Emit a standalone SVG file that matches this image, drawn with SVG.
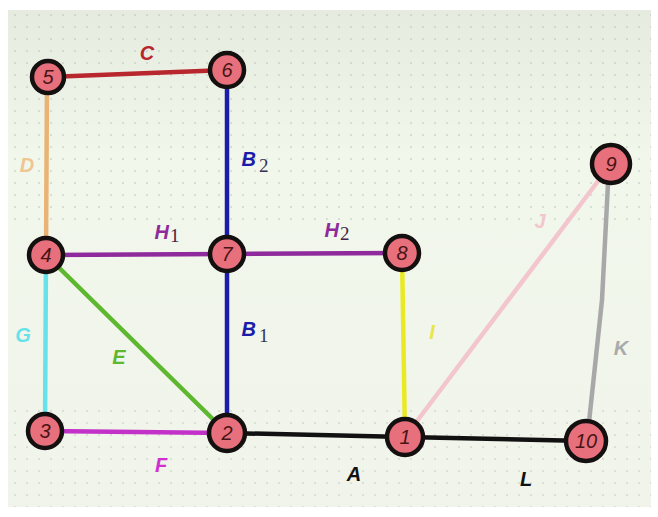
<svg xmlns="http://www.w3.org/2000/svg" width="658" height="517" viewBox="0 0 658 517">
<defs>
<pattern id="dots" width="12" height="12" patternUnits="userSpaceOnUse">
<circle cx="3" cy="3" r="1.1" fill="#9aa597" opacity="0.45"/>
</pattern>
<linearGradient id="bg" x1="0" y1="0" x2="0" y2="1">
<stop offset="0" stop-color="#e6ebe0"/>
<stop offset="0.3" stop-color="#f2f7ec"/>
<stop offset="1" stop-color="#f0f4ea"/>
</linearGradient>
</defs>
<style>
.e{fill:none;stroke-width:4.5;stroke-linecap:round}
.n circle{fill:#e8707c;stroke:#151010;stroke-width:4.5}
.n text{font-family:"Liberation Sans",Arial,sans-serif;font-style:italic;font-size:20px;fill:#4a1414;text-anchor:middle;dominant-baseline:central}
.l{font-family:"Liberation Sans",Arial,sans-serif;font-style:italic;font-weight:bold;font-size:20px}
.s{font-family:"Liberation Serif",serif;font-style:normal;font-weight:normal;font-size:19px}
</style>
<rect width="658" height="517" fill="#ffffff"/>
<rect x="8" y="10" width="643" height="497" fill="url(#bg)"/>
<rect x="8" y="10" width="643" height="210" fill="url(#dots)" opacity="0.8"/>
<rect x="8" y="400" width="643" height="107" fill="url(#dots)" opacity="0.7"/>
<g id="connectors">
<line class="e" x1="48" y1="77" x2="227" y2="70" stroke="#b8262e"/>
<line class="e" x1="47" y1="77" x2="46" y2="255" stroke="#e9b373"/>
<line class="e" x1="227" y1="70" x2="227" y2="254" stroke="#1c1caa"/>
<line class="e" x1="46" y1="255" x2="227" y2="254" stroke="#8e2a9c"/>
<line class="e" x1="227" y1="254" x2="402" y2="253" stroke="#8e2a9c"/>
<line class="e" x1="227" y1="254" x2="227" y2="433" stroke="#1c1caa"/>
<line class="e" x1="46" y1="255" x2="227" y2="433" stroke="#5db830"/>
<line class="e" x1="46" y1="255" x2="45" y2="431" stroke="#66e2ea"/>
<line class="e" x1="45" y1="431" x2="227" y2="433" stroke="#c232c8"/>
<line class="e" x1="227" y1="433" x2="405" y2="437" stroke="#111111"/>
<line class="e" x1="405" y1="437" x2="586" y2="441" stroke="#111111"/>
<line class="e" x1="402" y1="253" x2="405" y2="437" stroke="#eaea22"/>
<line class="e" x1="405" y1="437" x2="611" y2="164" stroke="#f2c6cc"/>
<polyline class="e" points="609,164 602,300 587,441" stroke="#a8a8a8"/>
</g>
<g id="edge-labels">
<text class="l" x="147" y="60" fill="#b8262e" text-anchor="middle">C</text>
<text class="l" x="27" y="172" fill="#efc592" text-anchor="middle">D</text>
<text class="l" x="255" y="166" fill="#1c1caa" text-anchor="middle">B<tspan class="s" fill="#333355" dx="3" dy="6">2</tspan></text>
<text class="l" x="167" y="239" fill="#8e2a9c" text-anchor="middle">H<tspan class="s" fill="#442244" dx="1" dy="3">1</tspan></text>
<text class="l" x="337" y="237" fill="#8e2a9c" text-anchor="middle">H<tspan class="s" fill="#442244" dx="1" dy="3">2</tspan></text>
<text class="l" x="540" y="228" fill="#f2c6cc" text-anchor="middle">J</text>
<text class="l" x="23" y="342" fill="#66e2ea" text-anchor="middle">G</text>
<text class="l" x="119" y="364" fill="#5db830" text-anchor="middle">E</text>
<text class="l" x="255" y="336" fill="#1c1caa" text-anchor="middle">B<tspan class="s" fill="#333355" dx="3" dy="6">1</tspan></text>
<text class="l" x="432" y="339" fill="#e8e64a" text-anchor="middle">I</text>
<text class="l" x="621" y="355" fill="#aaaaaa" text-anchor="middle">K</text>
<text class="l" x="161" y="472" fill="#d030d0" text-anchor="middle">F</text>
<text class="l" x="354" y="481" fill="#111111" text-anchor="middle">A</text>
<text class="l" x="526" y="486" fill="#111111" text-anchor="middle">L</text>
</g>
<g id="node-5" class="n"><circle cx="48" cy="77" r="16"/><text x="48" y="77">5</text></g>
<g id="node-6" class="n"><circle cx="227" cy="70" r="17"/><text x="227" y="70">6</text></g>
<g id="node-4" class="n"><circle cx="46" cy="255" r="17"/><text x="46" y="255">4</text></g>
<g id="node-7" class="n"><circle cx="227" cy="254" r="17"/><text x="227" y="254">7</text></g>
<g id="node-8" class="n"><circle cx="402" cy="253" r="17"/><text x="402" y="253">8</text></g>
<g id="node-9" class="n"><circle cx="611" cy="164" r="19"/><text x="611" y="164">9</text></g>
<g id="node-3" class="n"><circle cx="45" cy="431" r="17"/><text x="45" y="431">3</text></g>
<g id="node-2" class="n"><circle cx="227" cy="433" r="18"/><text x="227" y="433">2</text></g>
<g id="node-1" class="n"><circle cx="405" cy="437" r="18"/><text x="405" y="437">1</text></g>
<g id="node-10" class="n"><circle cx="586" cy="441" r="20"/><text x="586" y="441">10</text></g>
</svg>
